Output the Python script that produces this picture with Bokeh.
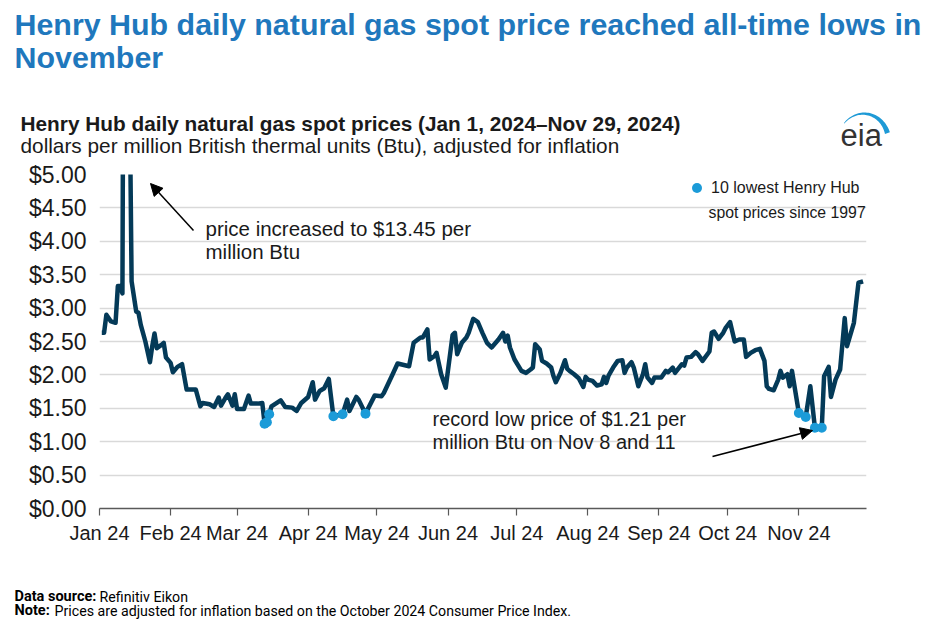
import numpy as np
import pandas as pd
from bokeh.plotting import figure
from bokeh.layouts import column
from bokeh.models import (Range1d, FixedTicker, NumeralTickFormatter, DatetimeTickFormatter,
                          Label, Arrow, NormalHead, Legend, LegendItem)
from bokeh.embed import file_html
from bokeh.resources import INLINE

# ---------------- data ----------------
dates = [
    "01-02", "01-03", "01-04", "01-06", "01-08", "01-09", "01-10", "01-11", "01-12", "01-15", "01-17",
    "01-18", "01-19", "01-21", "01-23", "01-24", "01-25", "01-26", "01-28", "01-29", "01-30",
    "02-01", "02-02", "02-04", "02-06", "02-08", "02-10", "02-12", "02-14", "02-15", "02-18", "02-20",
    "02-22", "02-23", "02-25", "02-26", "02-28", "02-29",
    "03-01", "03-04", "03-06", "03-07", "03-10", "03-12", "03-13", "03-14", "03-15", "03-16", "03-20",
    "03-22", "03-25", "03-27", "03-29", "03-31",
    "04-01", "04-03", "04-04", "04-06", "04-08", "04-10", "04-12", "04-16", "04-18", "04-19", "04-22",
    "04-23", "04-26", "04-30",
    "05-03", "05-04", "05-08", "05-10", "05-15", "05-17", "05-20", "05-21", "05-23", "05-24", "05-26",
    "05-27", "05-29", "05-31",
    "06-03", "06-04", "06-05", "06-07", "06-09", "06-10", "06-12", "06-14", "06-16", "06-18", "06-20",
    "06-23", "06-25", "06-26", "06-27", "06-28", "06-30",
    "07-03", "07-05", "07-07", "07-08", "07-09", "07-11", "07-12", "07-14", "07-16", "07-17", "07-18",
    "07-20", "07-22", "07-23", "07-24", "07-26", "07-28", "07-30", "07-31",
    "08-01", "08-03", "08-05", "08-07", "08-08", "08-09", "08-10", "08-12", "08-14", "08-16", "08-17",
    "08-18", "08-20", "08-21", "08-23", "08-25", "08-26", "08-27", "08-29", "08-30",
    "09-02", "09-04", "09-05", "09-07", "09-08", "09-11", "09-12", "09-13", "09-15", "09-17", "09-18",
    "09-20", "09-23", "09-24", "09-25", "09-27", "09-29", "09-30",
    "10-02", "10-04", "10-06", "10-08", "10-09", "10-11", "10-13", "10-15", "10-17", "10-18", "10-19",
    "10-21", "10-23", "10-24", "10-25", "10-27", "10-28", "10-29",
    "11-01", "11-04", "11-06", "11-08", "11-11", "11-12", "11-14", "11-15", "11-17", "11-19", "11-21",
    "11-22", "11-25", "11-27", "11-29",
]
prices = [
    2.63, 2.63, 2.90, 2.80, 2.78, 3.33, 3.33, 3.22, 13.45, 3.40, 2.95,
    2.93, 2.75, 2.50, 2.19, 2.43, 2.62, 2.40, 2.45, 2.48, 2.26,
    2.18, 2.04, 2.12, 2.16, 1.78, 1.78, 1.78, 1.53, 1.58, 1.56, 1.52,
    1.66, 1.54, 1.66, 1.71, 1.54, 1.71,
    1.49, 1.49, 1.69, 1.57, 1.57, 1.58, 1.27, 1.29, 1.41, 1.53, 1.62,
    1.52, 1.51, 1.46, 1.58, 1.64,
    1.67, 1.89, 1.63, 1.76, 1.80, 1.94, 1.38, 1.41, 1.63, 1.46, 1.67,
    1.63, 1.42, 1.69,
    1.68, 1.73, 2.02, 2.17, 2.13, 2.48, 2.56, 2.56, 2.68, 2.23, 2.28,
    2.33, 2.01, 1.81,
    2.60, 2.63, 2.31, 2.48, 2.56, 2.63, 2.84, 2.79, 2.63, 2.48, 2.41,
    2.53, 2.63, 2.50, 2.59, 2.41, 2.23,
    2.06, 2.03, 2.08, 2.11, 2.46, 2.38, 2.21, 2.17, 2.11, 1.98, 1.89,
    2.03, 2.22, 2.09, 2.06, 2.01, 1.95, 1.82, 1.97,
    1.93, 1.91, 1.84, 1.86, 1.97, 1.88, 1.99, 2.11, 2.21, 2.22, 2.03,
    2.11, 2.19, 2.11, 1.83, 2.01, 2.16, 1.96, 1.88, 1.96,
    1.96, 2.06, 2.04, 2.11, 2.03, 2.16, 2.14, 2.26, 2.27, 2.34, 2.31,
    2.21, 2.35, 2.63, 2.65, 2.54, 2.63, 2.70,
    2.79, 2.50, 2.53, 2.53, 2.27, 2.33, 2.37, 2.39, 2.21, 1.83, 1.79,
    1.77, 1.93, 2.06, 1.96, 2.01, 1.83, 2.06,
    1.43, 1.37, 1.83, 1.21, 1.21, 1.98, 2.12, 1.67, 1.93, 2.08, 2.85,
    2.43, 2.78, 3.38, 3.40,
]
low_dates = ["03-13", "03-14", "03-15", "04-12", "04-16", "04-26", "11-01", "11-04", "11-08", "11-11"]
low_prices = [1.27, 1.29, 1.41, 1.38, 1.41, 1.42, 1.43, 1.37, 1.21, 1.21]
month_ticks = ["01-01", "02-01", "03-01", "04-01", "05-01", "06-01", "07-01", "08-01", "09-01", "10-01", "11-01"]
y_ticks = [0.0, 0.5, 1.0, 1.5, 2.0, 2.5, 3.0, 3.5, 4.0, 4.5, 5.0]

x_dt = pd.to_datetime(["2024-" + d for d in dates])
low_dt = pd.to_datetime(["2024-" + d for d in low_dates])
tick_ms = [pd.Timestamp("2024-" + d).value / 1e6 for d in month_ticks]

# ---------------- layout constants (page pixels) ----------------
W = 923
HEAD_H = 160          # header strip: y 0..160
MAIN_H = 412          # main chart: y 160..572
FOOT_H = 47           # footer: y 572..619
FL, FR, FT, FB = 99, 866, 174, 508   # plot frame edges (page pixels)
FOOT_Y = HEAD_H + MAIN_H

LINE = "#043a58"
DOT = "#1b9bd8"
BLUE = "#1f78bd"
TXT = "#1a1a1a"
FONT = "Liberation Sans"


def blank(h):
    f = figure(width=W, height=h, title=None, output_backend="svg", toolbar_location=None,
               x_range=Range1d(0, W), y_range=Range1d(h, 0), min_border=0,
               x_axis_location=None, y_axis_location=None, frame_align=False)
    f.grid.grid_line_color = None
    f.outline_line_color = None
    f.background_fill_color = "white"
    f.border_fill_color = "white"
    return f


def dlab(f, text, x, y, size, bold=False, color=TXT, font=FONT, baseline="middle"):
    f.add_layout(Label(x=x, y=y, text=text, text_font=font, text_font_size=f"{size}px",
                       text_font_style="bold" if bold else "normal", text_color=color,
                       text_align="left", text_baseline=baseline))


# ---------------- header ----------------
head = blank(HEAD_H)
dlab(head, "Henry Hub daily natural gas spot price reached all-time lows in", 14, 23, 30.4, bold=True, color=BLUE)
dlab(head, "November", 14, 56, 30.4, bold=True, color=BLUE)
dlab(head, "Henry Hub daily natural gas spot prices (Jan 1, 2024\u2013Nov 29, 2024)", 20, 123, 20.8, bold=True)
dlab(head, "dollars per million British thermal units (Btu), adjusted for inflation", 20, 145, 20.8)
dlab(head, "eia", 840, 135, 31, color="#333333")
cx, cy, rx, ry = 864, 142, 27, 30
ang = np.radians(np.linspace(140, 20, 40))
t = np.linspace(0, 1, 40)
thick = 0.6 + 4.6 * t ** 1.1
xs = np.concatenate([cx + rx * np.cos(ang), (cx + (rx - thick) * np.cos(ang))[::-1]])
ys = np.concatenate([cy - ry * np.sin(ang), (cy - (ry - thick) * np.sin(ang))[::-1]])
head.patch(list(xs), list(ys), fill_color="#1e9ad6", line_color=None)

# ---------------- main chart ----------------
p = figure(width=W, height=MAIN_H, title=None, x_axis_type="datetime",
           output_backend="svg", toolbar_location=None, frame_align=False,
           x_range=Range1d(pd.Timestamp("2024-01-01"), pd.Timestamp("2024-11-30 12:00")),
           y_range=Range1d(0, 5),
           min_border_left=FL, min_border_right=W - FR,
           min_border_top=FT - HEAD_H, min_border_bottom=FOOT_Y - FB)
p.outline_line_color = None
p.background_fill_color = "white"
p.border_fill_color = "white"

p.xaxis.ticker = FixedTicker(ticks=tick_ms)
p.xaxis.formatter = DatetimeTickFormatter(days="%b %y", months="%b %y", years="%b %y")
p.xaxis.major_label_text_font = FONT
p.xaxis.major_label_text_font_size = "20px"
p.xaxis.major_label_text_color = TXT
p.xaxis.axis_line_color = "#595959"
p.xaxis.axis_line_width = 1.5
p.xaxis.major_tick_line_color = "#595959"
p.xaxis.major_tick_line_width = 1.2
p.xaxis.major_tick_in = 0
p.xaxis.major_tick_out = 7
p.xaxis.minor_tick_line_color = None
p.xaxis.major_label_standoff = 6
p.xgrid.grid_line_color = None

p.yaxis.ticker = FixedTicker(ticks=y_ticks)
p.yaxis.formatter = NumeralTickFormatter(format="$0.00")
p.yaxis.major_label_text_font = FONT
p.yaxis.major_label_text_font_size = "23px"
p.yaxis.major_label_text_color = TXT
p.yaxis.axis_line_color = None
p.yaxis.major_tick_line_color = None
p.yaxis.minor_tick_line_color = None
p.yaxis.major_tick_out = 0
p.yaxis.major_tick_in = 0
p.yaxis.major_label_standoff = 13
p.ygrid.grid_line_color = "#d9d9d9"
p.ygrid.grid_line_width = 1.5

p.line(x_dt, prices, line_color=LINE, line_width=4.5, line_join="round")
dots = p.scatter(low_dt, low_prices, size=10, fill_color=DOT, line_color=None)

legend = Legend(items=[LegendItem(label="10 lowest Henry Hub", renderers=[dots])],
                location=(585, 308), glyph_width=25, glyph_height=25,
                label_standoff=2, padding=0, margin=0, spacing=0,
                background_fill_alpha=0, border_line_color=None,
                label_text_font=FONT, label_text_font_size="16px", label_text_color=TXT,
                label_height=20)
p.add_layout(legend)


def lab(text, x, y, size, color=TXT):
    p.add_layout(Label(x=x - FL, y=FB - y, x_units="screen", y_units="screen", text=text,
                       text_font=FONT, text_font_size=f"{size}px", text_color=color,
                       text_align="left", text_baseline="middle"))


lab("spot prices since 1997", 708, 212, 15.8)
lab("price increased to $13.45 per", 205, 228, 20.5)
lab("million Btu", 205, 251, 20.5)
lab("record low price of $1.21 per", 432, 418, 20)
lab("million Btu on Nov 8 and 11", 432, 441, 20)

for (x0, y0, x1, y1) in [(193, 230, 150, 183), (712, 456, 812, 430)]:
    p.add_layout(Arrow(end=NormalHead(size=12, fill_color="black", line_color="black"),
                       x_start=x0 - FL, y_start=FB - y0, x_end=x1 - FL, y_end=FB - y1,
                       start_units="screen", end_units="screen", line_width=1.5, line_color="black"))

# ---------------- footer ----------------
foot = blank(FOOT_H)
dlab(foot, "Data source:", 14, 596 - FOOT_Y, 14.5, bold=True, font="Roboto", color="black")
dlab(foot, "Refinitiv Eikon", 99, 596 - FOOT_Y, 14.2, font="Roboto", color="black")
dlab(foot, "Note:", 14, 610 - FOOT_Y, 14.5, bold=True, font="Roboto", color="black")
dlab(foot, "Prices are adjusted for inflation based on the October 2024 Consumer Price Index.",
     54, 610 - FOOT_Y, 14.2, font="Roboto", color="black")

layout = column(head, p, foot, spacing=0)
open("out.html", "w").write(file_html(layout, INLINE))
